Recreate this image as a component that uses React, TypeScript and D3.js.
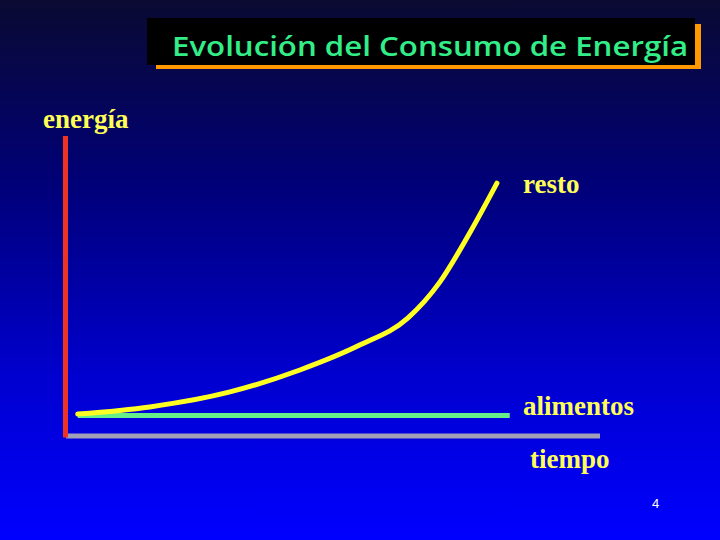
import React from "react";
import * as d3 from "d3";

const title = "Evolución del Consumo de Energía";
const yLabel = "energía";
const xLabel = "tiempo";
const seriesNames = ["resto", "alimentos"];
const pageNumber = "4";

// time (0-100) and energy (0-100) readings
const restoTime = [2.2, 15.7, 30.7, 43.8, 55, 64, 70, 75.7, 80.7];
const restoEnergy = [7.3, 9.7, 14.7, 22, 30.3, 39.3, 51.3, 68, 84.3];
const alimentosTime = [2.2, 83.1];
const alimentosEnergy = [6.8, 6.8];

export default function App() {
  const W = 720;
  const H = 540;
  const x = d3.scaleLinear().domain([0, 100]).range([66, 600]);
  const y = d3.scaleLinear().domain([0, 100]).range([436, 136]);

  const line = d3
    .line<[number, number]>()
    .x((d) => x(d[0]))
    .y((d) => y(d[1]))
    .curve(d3.curveMonotoneX);

  const resto = restoTime.map((t, i) => [t, restoEnergy[i]] as [number, number]);
  const alim = alimentosTime.map((t, i) => [t, alimentosEnergy[i]] as [number, number]);

  const labelStyle: React.CSSProperties = {
    fontFamily: "'Liberation Serif', 'Times New Roman', serif",
    fontWeight: "bold",
    fontSize: 27,
    fill: "#ffff55",
  };

  return (
    <svg
      width={W}
      height={H}
      style={{ position: "fixed", left: 0, top: 0, display: "block" }}
    >
      <defs>
        <linearGradient id="bg" x1="0" y1="0" x2="0" y2="1">
          <stop offset="0" stopColor="#0a0a32" />
          <stop offset="0.35" stopColor="#00007a" />
          <stop offset="0.7" stopColor="#0000d0" />
          <stop offset="1" stopColor="#0000ff" />
        </linearGradient>
      </defs>
      <rect x={0} y={0} width={W} height={H} fill="url(#bg)" />

      {/* title box */}
      <rect x={156} y={24} width={545} height={45} fill="#ff9900" />
      <rect x={147} y={18} width={548} height={47} fill="#000000" />
      <text
        x={172}
        y={56}
        fill="#33ee88"
        fontFamily="'Open Sans', 'DejaVu Sans', sans-serif"
        fontWeight={600}
        fontSize={27}
        textLength={516}
        lengthAdjust="spacingAndGlyphs"
      >
        {title}
      </text>

      {/* axes */}
      <line x1={x(0)} x2={x(100)} y1={y(0)} y2={y(0)} stroke="#a0a0b8" strokeWidth={5} />
      <line x1={x(0) - 0.5} x2={x(0) - 0.5} y1={y(100)} y2={y(0) + 1.5} stroke="#ee3322" strokeWidth={5} />

      {/* series */}
      <path d={line(alim) || ""} fill="none" stroke="#66ee88" strokeWidth={5} />
      <path d={line(resto) || ""} fill="none" stroke="#ffff22" strokeWidth={5} strokeLinecap="round" />

      {/* labels */}
      <text x={43} y={128} style={labelStyle}>{yLabel}</text>
      <text x={523} y={193} style={labelStyle}>{seriesNames[0]}</text>
      <text x={523} y={415} style={labelStyle}>{seriesNames[1]}</text>
      <text x={530} y={468} style={labelStyle}>{xLabel}</text>
      <text
        x={652}
        y={508}
        fill="#ffffff"
        fontFamily="'Liberation Sans', Arial, sans-serif"
        fontSize={13}
      >
        {pageNumber}
      </text>
    </svg>
  );
}
